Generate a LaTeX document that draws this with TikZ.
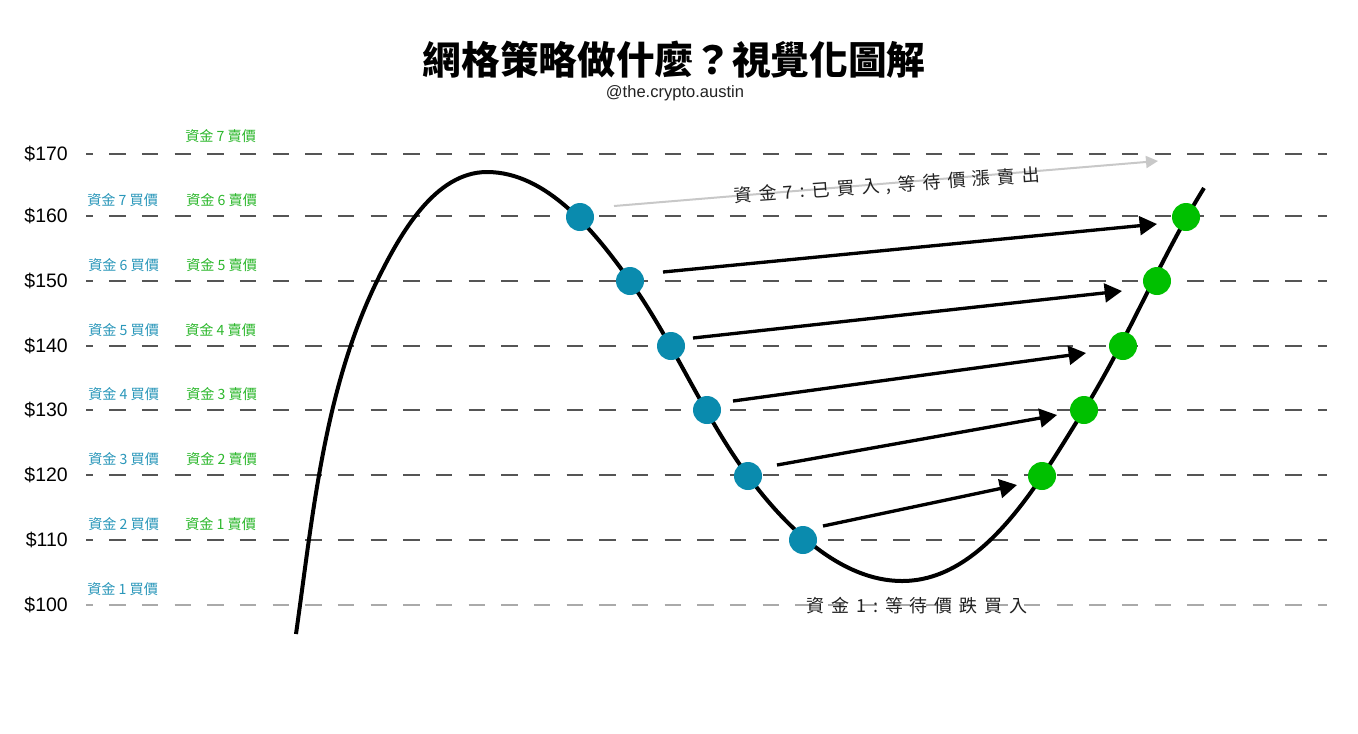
\documentclass[tikz,border=0pt]{standalone}
\usepackage{fontspec}
\setmainfont{Liberation Sans}
\newfontfamily\cjk{Noto Sans CJK TC}
\newfontfamily\cjkls{Noto Sans CJK TC}[LetterSpace=38]
\usetikzlibrary{arrows.meta}
\definecolor{dotblue}{HTML}{0A8BAE}
\definecolor{dotgreen}{HTML}{00C000}
\definecolor{lblblue}{HTML}{2A97BA}
\definecolor{lblgreen}{HTML}{2DB82D}
\definecolor{gridgray}{HTML}{555555}
\definecolor{gridlight}{HTML}{AAAAAA}
\definecolor{arrgray}{HTML}{C8C8C8}
\definecolor{txtdark}{HTML}{222222}
\begin{document}
\begin{tikzpicture}[x=0.75pt,y=-0.75pt,
  gridline/.style={draw=gridgray,line width=1.1pt,dash pattern=on 12.4pt off 12.1pt,dash phase=7.1pt},
  gridlinelight/.style={gridline,draw=gridlight},
  price/.style={anchor=east,inner sep=0pt,font=\fontsize{14.6pt}{16pt}\selectfont,text=black},
  buylbl/.style={anchor=west,inner sep=0pt,font=\cjk\fontsize{10.6pt}{12pt}\selectfont,text=lblblue},
  selllbl/.style={anchor=west,inner sep=0pt,font=\cjk\fontsize{10.6pt}{12pt}\selectfont,text=lblgreen},
  bdot/.style={circle,fill=dotblue,minimum size=21pt,inner sep=0pt},
  gdot/.style={circle,fill=dotgreen,minimum size=21pt,inner sep=0pt},
  pricecurve/.style={draw=black,line width=3pt},
  tradearrow/.style={draw=black,line width=2.5pt,-{Triangle[length=13pt,width=14pt]}},
  holdarrow/.style={draw=arrgray,line width=1.5pt,-{Triangle[length=9pt,width=9pt]}},
  note/.style={inner sep=0pt,font=\cjkls\fontsize{13.5pt}{15pt}\selectfont,text=txtdark}
]
\useasboundingbox[fill=white] (0,0) rectangle (1358,733);

% title
\node[inner sep=0pt,font=\cjk\bfseries\fontsize{29pt}{32pt}\selectfont] (title) at (674,60) {網格策略做什麼？視覺化圖解};
\node[inner sep=0pt,font=\fontsize{12.4pt}{14pt}\selectfont,text=txtdark] (handle) at (675,93) {@the.crypto.austin};

% grid lines
\foreach \yy/\p in {154/170,216/160,281/150,346/140,410/130,475/120,540/110}{
  \draw[gridline] (86,\yy) -- (1327,\yy);
  \node[price] (p\p) at (68,\yy) {\$\p};
}
\draw[gridlinelight] (86,605) -- (1327,605);
\node[price] (p100) at (68,605) {\$100};

% labels
\node[selllbl] (s7) at (185,136) {資金 7 賣價};
\node[buylbl] (b7l) at (87,200) {資金 7 買價};
\node[selllbl] (s6) at (186,200) {資金 6 賣價};
\node[buylbl] (b6l) at (88,265) {資金 6 買價};
\node[selllbl] (s5) at (186,265) {資金 5 賣價};
\node[buylbl] (b5l) at (88,330) {資金 5 買價};
\node[selllbl] (s4) at (185,330) {資金 4 賣價};
\node[buylbl] (b4l) at (88,394) {資金 4 買價};
\node[selllbl] (s3) at (186,394) {資金 3 賣價};
\node[buylbl] (b3l) at (88,459) {資金 3 買價};
\node[selllbl] (s2) at (186,459) {資金 2 賣價};
\node[buylbl] (b2l) at (88,524) {資金 2 買價};
\node[selllbl] (s1) at (185,524) {資金 1 賣價};
\node[buylbl] (b1l) at (87,589) {資金 1 買價};

% price curve
\draw[pricecurve] (296,634)
  .. controls (313,514) and (324,390) .. (377,281)
  .. controls (400,234) and (435,172) .. (487,172)
  .. controls (547,172) and (595,232) .. (630,281)
  .. controls (674,343) and (703,415) .. (748,476)
  .. controls (785,526) and (840,581) .. (902,581)
  .. controls (985,581) and (1040,480) .. (1084,410)
  .. controls (1128,339) and (1160,259) .. (1204,188);

% dots
\node[bdot] (b7) at (580,217) {};
\node[bdot] (b6) at (630,281) {};
\node[bdot] (b5) at (671,346) {};
\node[bdot] (b4) at (707,410) {};
\node[bdot] (b3) at (748,476) {};
\node[bdot] (b2) at (803,540) {};
\node[gdot] (g1) at (1042,476) {};
\node[gdot] (g2) at (1084,410) {};
\node[gdot] (g3) at (1123,346) {};
\node[gdot] (g4) at (1157,281) {};
\node[gdot] (g5) at (1186,217) {};

% arrows
\coordinate (h7s) at (614,206);  \coordinate (h7e) at (1158,161);
\coordinate (a6s) at (663,272);  \coordinate (a6e) at (1157,224);
\coordinate (a5s) at (693,338);  \coordinate (a5e) at (1122,291);
\coordinate (a4s) at (733,401);  \coordinate (a4e) at (1086,353);
\coordinate (a3s) at (777,465);  \coordinate (a3e) at (1057,415);
\coordinate (a2s) at (823,526);  \coordinate (a2e) at (1017,485);
\draw[holdarrow] (h7s) -- (h7e);
\draw[tradearrow] (a6s) -- (a6e);
\draw[tradearrow] (a5s) -- (a5e);
\draw[tradearrow] (a4s) -- (a4e);
\draw[tradearrow] (a3s) -- (a3e);
\draw[tradearrow] (a2s) -- (a2e);

% notes
\node[note,rotate=4] (n7) at (887,186) {資金7:已買入,\hspace{5pt}等待價漲賣出};
\node[note] (n1) at (917,606) {資金1:等待價跌買入};
\end{tikzpicture}
\end{document}
